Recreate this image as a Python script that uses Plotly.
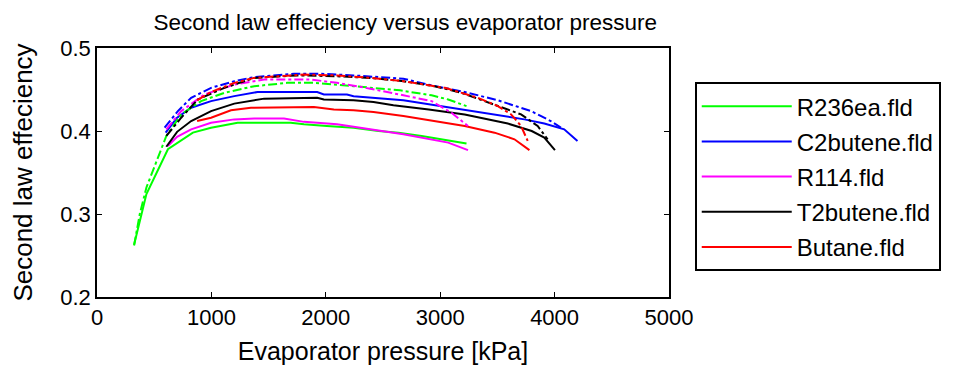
import plotly.graph_objects as go

# R236ea
r236_p = [324, 432, 620, 838, 997, 1229, 1693, 1809, 2009, 2243, 2461, 2635, 2838, 3070, 3230]
r236_v = [0.263, 0.324, 0.378, 0.398, 0.404, 0.410, 0.410, 0.408, 0.406, 0.404, 0.400, 0.398, 0.394, 0.389, 0.385]
r236_dp = [324, 374, 432, 519, 606, 736, 910, 1113, 1374, 1664, 1896, 2243, 2649, 2925, 3070, 3230]
r236_dv = [0.262, 0.300, 0.332, 0.364, 0.394, 0.420, 0.436, 0.446, 0.454, 0.458, 0.458, 0.454, 0.449, 0.443, 0.438, 0.430]
# C2butene
c2b_p = [600, 700, 823, 997, 1200, 1403, 1925, 1983, 2185, 2243, 2678, 3214, 3736, 3910, 4084, 4200]
c2b_v = [0.398, 0.416, 0.428, 0.436, 0.442, 0.447, 0.447, 0.444, 0.444, 0.442, 0.437, 0.425, 0.414, 0.409, 0.402, 0.388]
c2b_dp = [591, 707, 823, 997, 1200, 1374, 1722, 1954, 2243, 2678, 2925, 3214, 3504, 3794, 3966, 4055]
c2b_dv = [0.404, 0.424, 0.440, 0.452, 0.460, 0.465, 0.469, 0.469, 0.467, 0.463, 0.455, 0.447, 0.437, 0.424, 0.412, 0.404]
# R114
r114_p = [620, 700, 823, 997, 1200, 1374, 1635, 1809, 2098, 2400, 2678, 3070, 3243]
r114_v = [0.382, 0.393, 0.402, 0.410, 0.414, 0.415, 0.415, 0.411, 0.408, 0.402, 0.396, 0.386, 0.377]
r114_dp = [606, 736, 939, 1200, 1461, 1867, 2098, 2388, 2678, 2925, 3099, 3243]
r114_dv = [0.402, 0.424, 0.444, 0.456, 0.462, 0.462, 0.458, 0.451, 0.443, 0.436, 0.422, 0.406]
# T2butene
t2b_p = [606, 700, 823, 997, 1200, 1461, 1925, 1983, 2243, 2417, 2591, 2900, 3214, 3591, 3800, 3910, 4003]
t2b_v = [0.381, 0.399, 0.412, 0.424, 0.433, 0.439, 0.440, 0.438, 0.437, 0.435, 0.431, 0.426, 0.420, 0.409, 0.400, 0.392, 0.377]
t2b_dp = [606, 736, 881, 1113, 1374, 1751, 2098, 2388, 2678, 2950, 3186, 3504, 3707, 3852, 3939]
t2b_dv = [0.394, 0.416, 0.438, 0.452, 0.464, 0.467, 0.466, 0.464, 0.460, 0.454, 0.446, 0.430, 0.420, 0.406, 0.390]
# Butane
but_p = [875, 997, 1171, 1345, 1896, 2070, 2243, 2417, 2678, 2950, 3214, 3475, 3649, 3780]
but_v = [0.412, 0.416, 0.425, 0.428, 0.429, 0.426, 0.425, 0.423, 0.418, 0.412, 0.406, 0.398, 0.390, 0.377]
but_dp = [875, 997, 1200, 1374, 1809, 2098, 2388, 2678, 3041, 3330, 3504, 3620, 3707, 3765]
but_dv = [0.437, 0.447, 0.458, 0.464, 0.468, 0.467, 0.464, 0.460, 0.452, 0.440, 0.430, 0.420, 0.406, 0.388]

names = ["R236ea.fld", "C2butene.fld", "R114.fld", "T2butene.fld", "Butane.fld"]
colors = ["#00ff00", "#0000ff", "#ff00ff", "#000000", "#ff0000"]
solid = [(r236_p, r236_v), (c2b_p, c2b_v), (r114_p, r114_v), (t2b_p, t2b_v), (but_p, but_v)]
dashed = [(r236_dp, r236_dv), (c2b_dp, c2b_dv), (r114_dp, r114_dv), (t2b_dp, t2b_dv), (but_dp, but_dv)]

FONT = "Liberation Sans, Arial, sans-serif"
fig = go.Figure()
for name, col, (xs, ys) in zip(names, colors, solid):
    fig.add_trace(go.Scatter(x=xs, y=ys, mode="lines", name=name, legendgroup=name,
                             line=dict(color=col, width=2)))
for name, col, (xs, ys) in zip(names, colors, dashed):
    fig.add_trace(go.Scatter(x=xs, y=ys, mode="lines", name=name, legendgroup=name,
                             showlegend=False,
                             line=dict(color=col, width=2, dash="dashdot")))

axis_common = dict(showgrid=False, zeroline=False, showline=True, linecolor="black",
                   linewidth=1.5, mirror="ticks", ticks="inside", ticklen=5,
                   tickcolor="black", tickwidth=1, automargin=False,
                   tickfont=dict(family=FONT, size=22, color="black"))
fig.update_xaxes(range=[0, 5000], dtick=1000, tick0=0,
                 title=dict(text="Evaporator pressure [kPa]",
                            font=dict(family=FONT, size=25, color="black"), standoff=13),
                 **axis_common)
fig.update_yaxes(range=[0.2, 0.5], dtick=0.1, tick0=0.2, tickformat=".1f",
                 title=dict(text="Second law effeciency",
                            font=dict(family=FONT, size=26, color="black"), standoff=24),
                 **axis_common)
fig.update_layout(
    width=945, height=364,
    margin=dict(l=89, r=281, t=40, b=75),
    paper_bgcolor="white", plot_bgcolor="white",
    title=dict(text="Second law effeciency versus evaporator pressure",
               font=dict(family=FONT, size=22.5, color="black"),
               x=0.539, xref="paper", xanchor="center", y=0.96, yref="container", yanchor="middle"),
    legend=dict(x=1.045, y=0.863, xanchor="left", yanchor="top",
                bgcolor="white", bordercolor="black", borderwidth=2,
                tracegroupgap=1,
                font=dict(family=FONT, size=24, color="black"), itemwidth=90),
    showlegend=True,
)
fig.write_html("out.html")
